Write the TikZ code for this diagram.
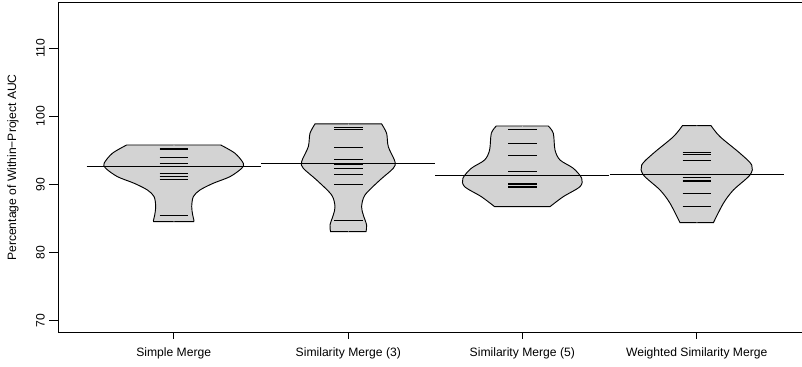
\documentclass[tikz,border=0pt]{standalone}
\usepackage{fontspec}
\setmainfont{Liberation Sans}
\definecolor{beangray}{RGB}{211,211,211}

% one bean: centre, top, bottom, right-hand outline
\newcommand{\bean}[4]{%
  \foreach \s in {1,-1} {
    \fill[beangray, shift={(#1,0)}, xscale=\s] (-0.6,#2) -- plot[smooth] coordinates {#4} -- (-0.6,#3) -- cycle;
    \draw[shift={(#1,0)}, xscale=\s] (0,#2) -- plot[smooth] coordinates {#4} -- (0,#3);
  }
}
% one data line inside a bean
\newcommand{\bline}[2]{\draw (#1-14.2,#2) -- (#1+14.2,#2);}

\begin{document}
\begin{tikzpicture}[x=0.75pt, y=5.1pt, line width=0.7pt,
  every node/.style={font=\fontsize{9.1}{11}\selectfont, inner sep=0}]
\useasboundingbox (0,63.13) rectangle (802,117.1);

% beans
\bean{173.7}{95.78}{84.5}{(47,95.78) (61.3,94.56) (69.6,93.09) (68,92.35) (56.3,91.12) (39.6,90.15) (26.3,89.16) (19.6,88.18) (18,86.71) (19,85.49) (20.3,84.65) (20,84.5)}
\bean{348.3}{98.87}{83.03}{(33.3,98.87) (38.3,97.5) (40,95.53) (46.7,93.32) (45,92.35) (31.7,90.63) (16.7,88.43) (13.3,86.71) (15,85.49) (18.3,84.01) (17.7,83.03)}
\bean{522.3}{98.57}{86.71}{(26,98.57) (31,97.5) (32.7,95.04) (37.7,93.57) (51,92.35) (59.4,90.88) (57.7,89.65) (41,88.18) (27.7,86.71)}
\bean{696.7}{98.62}{84.35}{(14.3,98.62) (23.3,97) (43.3,94.56) (55,92.84) (53.3,91.37) (36.7,89.16) (26.7,87.21) (16.7,84.35)}

% data lines
\bline{173.7}{95.29} \bline{173.7}{95.15} \bline{173.7}{93.97} \bline{173.7}{93.09}
\bline{173.7}{91.62} \bline{173.7}{91.22} \bline{173.7}{90.78} \bline{173.7}{85.38}

\bline{348.3}{98.38} \bline{348.3}{97.99} \bline{348.3}{95.38} \bline{348.3}{93.68}
\bline{348.3}{92.84} \bline{348.3}{92.35} \bline{348.3}{91.51} \bline{348.3}{89.9}
\bline{348.3}{84.75}

\bline{522.3}{97.99} \bline{522.3}{95.97} \bline{522.3}{94.21} \bline{522.3}{91.91}
\bline{522.3}{90.15} \bline{522.3}{89.94} \bline{522.3}{89.75} \bline{522.3}{89.5}
\bline{522.3}{86.8}

\bline{696.7}{94.71} \bline{696.7}{94.31} \bline{696.7}{93.57} \bline{696.7}{90.97}
\bline{696.7}{90.63} \bline{696.7}{90.34} \bline{696.7}{88.68} \bline{696.7}{86.81}

% medians
\draw (86.55,92.59) -- (260.85,92.59);
\draw (261.15,93.09) -- (435.45,93.09);
\draw (435.15,91.26) -- (609.45,91.26);
\draw (609.55,91.51) -- (783.85,91.51);

% frame
\draw (58.7,68.18) rectangle (811.6,116.76);

% y axis
\draw (58.7,70) -- (48.7,70);
\draw (58.7,80) -- (48.7,80);
\draw (58.7,90) -- (48.7,90);
\draw (58.7,100) -- (48.7,100);
\draw (58.7,110) -- (48.7,110);
\node[rotate=90] (y70) at (40.5,70) {70};
\node[rotate=90] (y80) at (40.5,80) {80};
\node[rotate=90] (y90) at (40.5,90) {90};
\node[rotate=90] (y100) at (40.5,100) {100};
\node[rotate=90] (y110) at (40.5,110) {110};
\node[rotate=90] (ytitle) at (13,92.47) {Percentage of Within−Project AUC};

% x axis
\draw (173.7,68.18) -- (173.7,67.3);
\draw (348.3,68.18) -- (348.3,67.3);
\draw (522.3,68.18) -- (522.3,67.3);
\draw (696.7,68.18) -- (696.7,67.3);
\node (simple) at (173.7,65.2) {Simple Merge};
\node (sim3) at (348.3,65.2) {Similarity Merge (3)};
\node (sim5) at (522.3,65.2) {Similarity Merge (5)};
\node (weighted) at (696.7,65.2) {Weighted Similarity Merge};
\end{tikzpicture}
\end{document}
